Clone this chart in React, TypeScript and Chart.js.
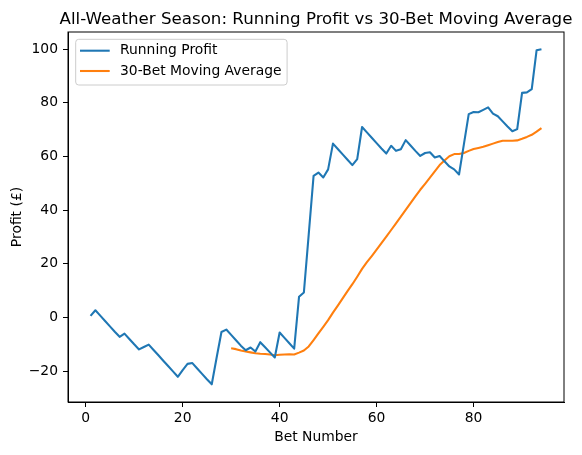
import { useEffect, useRef } from "react";
import { Chart, registerables } from "chart.js";

Chart.register(...registerables);

// running profit after each bet (bets 1..94)
const runningProfit = [
  0.6, 2.7, 0.7, -1.3, -3.3, -5.3, -7.2, -6.0, -8.0, -10.0,
  -11.9, -11.0, -10.1, -12.1, -14.1, -16.1, -18.1, -20.1, -22.1, -19.6,
  -17.3, -17.0, -19.0, -21.0, -23.0, -24.9, -15.0, -5.4, -4.5, -6.5,
  -8.5, -10.5, -12.2, -11.2, -12.7, -9.2, -11.1, -13.0, -14.9, -5.6,
  -7.6, -9.6, -11.6, 7.7, 9.3, 31.0, 52.8, 54.0, 52.2, 55.2,
  64.8, 62.8, 60.8, 58.8, 56.8, 59.0, 71.0, 69.0, 67.0, 65.0,
  63.0, 61.1, 64.0, 62.1, 62.7, 66.1, 64.1, 62.1, 60.2, 61.3,
  61.6, 59.6, 60.2, 58.2, 56.3, 55.2, 53.3, 64.5, 75.8, 76.6,
  76.5, 77.4, 78.3, 76.0, 75.0, 73.1, 71.2, 69.4, 70.2, 83.7,
  83.9, 85.1, 99.6, 100.0,
];

// 30-bet moving average, first value at bet 30
const maStartBet = 30;
const movingAverage = [
  -11.5, -11.8, -12.3, -12.7, -13.0, -13.3, -13.5, -13.6, -13.8, -14.1,
  -13.9, -13.8, -13.7, -13.8, -13.1, -12.3, -10.8, -8.4, -5.9, -3.5,
  -1.0, 1.8, 4.4, 7.1, 9.8, 12.4, 15.2, 18.1, 20.6, 22.9,
  25.3, 27.7, 30.1, 32.6, 35.1, 37.6, 40.1, 42.6, 45.1, 47.6,
  49.8, 52.1, 54.5, 56.8, 58.5, 60.1, 60.9, 60.9, 61.3, 62.1,
  62.8, 63.2, 63.6, 64.2, 64.8, 65.4, 65.9, 65.9, 65.9, 66.0,
  66.6, 67.3, 68.1, 69.3, 70.6,
];

const xTicks = [0, 20, 40, 60, 80];
const yTicks = [-20, 0, 20, 40, 60, 80, 100];

const FONT = "'DejaVu Sans', sans-serif";
const TITLE = "All-Weather Season: Running Profit vs 30-Bet Moving Average";

const fmt = (v: number) => (v < 0 ? "\u2212" + Math.abs(v) : String(v));

// matplotlib-style box, title and legend
const decor = {
  id: "decor",
  afterDraw(chart: Chart) {
    const { ctx, chartArea: a } = chart;
    ctx.save();
    ctx.strokeStyle = "#000";
    ctx.lineWidth = 1;
    ctx.strokeRect(a.left, a.top, a.right - a.left, a.bottom - a.top);

    ctx.fillStyle = "#000";
    ctx.font = `16.67px ${FONT}`;
    ctx.textAlign = "center";
    ctx.textBaseline = "alphabetic";
    ctx.fillText(TITLE, (a.left + a.right) / 2, a.top - 8.3);

    // legend
    ctx.font = `13.89px ${FONT}`;
    const sets = chart.data.datasets;
    const textX = a.left + 52;
    const maxW = Math.max(...sets.map((d) => ctx.measureText(String(d.label)).width));
    const bx = a.left + 7.7;
    const by = a.top + 7.3;
    const bw = textX + maxW + 5.5 - bx;
    const bh = 45.7;
    ctx.beginPath();
    ctx.roundRect(bx, by, bw, bh, 3);
    ctx.fillStyle = "rgba(255,255,255,0.8)";
    ctx.fill();
    ctx.strokeStyle = "#cccccc";
    ctx.stroke();
    sets.forEach((d, i) => {
      const y = a.top + 18.7 + i * 20.3;
      ctx.beginPath();
      ctx.moveTo(a.left + 12, y);
      ctx.lineTo(a.left + 41.7, y);
      ctx.strokeStyle = d.borderColor as string;
      ctx.lineWidth = 2.08;
      ctx.stroke();
      ctx.fillStyle = "#000";
      ctx.textAlign = "left";
      ctx.textBaseline = "middle";
      ctx.fillText(String(d.label), textX, y);
    });
    ctx.restore();
  },
};

export default function App() {
  const canvasRef = useRef<HTMLCanvasElement>(null);

  useEffect(() => {
    document.body.style.margin = "0";
    if (!canvasRef.current) return;

    const profitPts = runningProfit.map((y, i) => ({ x: i + 1, y }));
    const maPts = movingAverage.map((y, i) => ({ x: i + maStartBet, y }));
    const tickFont = { family: FONT, size: 13.89 };

    const chart = new Chart(canvasRef.current, {
      type: "line",
      data: {
        datasets: [
          {
            label: "Running Profit",
            data: profitPts,
            borderColor: "#1f77b4",
            borderWidth: 2.08,
            pointRadius: 0,
            borderJoinStyle: "round",
            tension: 0,
          },
          {
            label: "30-Bet Moving Average",
            data: maPts,
            borderColor: "#ff7f0e",
            borderWidth: 2.08,
            pointRadius: 0,
            borderJoinStyle: "round",
            tension: 0,
          },
        ],
      },
      options: {
        responsive: false,
        animation: false,
        layout: { padding: { left: 0, top: 32, right: 18, bottom: 0 } },
        plugins: {
          legend: { display: false },
          tooltip: { enabled: false },
        },
        scales: {
          x: {
            type: "linear",
            min: -3.65,
            max: 98.65,
            afterBuildTicks: (s: any) => {
              s.ticks = xTicks.map((value) => ({ value }));
            },
            afterFit: (s: any) => {
              s.height = 53;
            },
            grid: { drawOnChartArea: false, tickLength: 5, color: "#000", tickWidth: 1 },
            border: { display: true, color: "#000", width: 1 },
            ticks: {
              color: "#000",
              font: tickFont,
              padding: 3,
              maxRotation: 0,
              autoSkip: false,
              callback: (v: any) => fmt(Number(v)),
            },
            title: {
              display: true,
              text: "Bet Number",
              color: "#000",
              font: tickFont,
              padding: { top: 0, bottom: 9.7 },
            },
          },
          y: {
            type: "linear",
            min: -31.5,
            max: 106.4,
            afterBuildTicks: (s: any) => {
              s.ticks = yTicks.map((value) => ({ value }));
            },
            afterFit: (s: any) => {
              s.width = 68;
            },
            grid: { drawOnChartArea: false, tickLength: 5, color: "#000", tickWidth: 1 },
            border: { display: true, color: "#000", width: 1 },
            ticks: {
              color: "#000",
              font: tickFont,
              padding: 5,
              autoSkip: false,
              callback: (v: any) => fmt(Number(v)),
            },
            title: {
              display: true,
              text: "Profit (£)",
              color: "#000",
              font: tickFont,
              padding: { top: 9, bottom: 0 },
            },
          },
        },
      },
      plugins: [decor],
    });

    return () => {
      chart.destroy();
    };
  }, []);

  return (
    <div style={{ width: 582, height: 455 }}>
      <canvas ref={canvasRef} width={582} height={455} />
    </div>
  );
}
